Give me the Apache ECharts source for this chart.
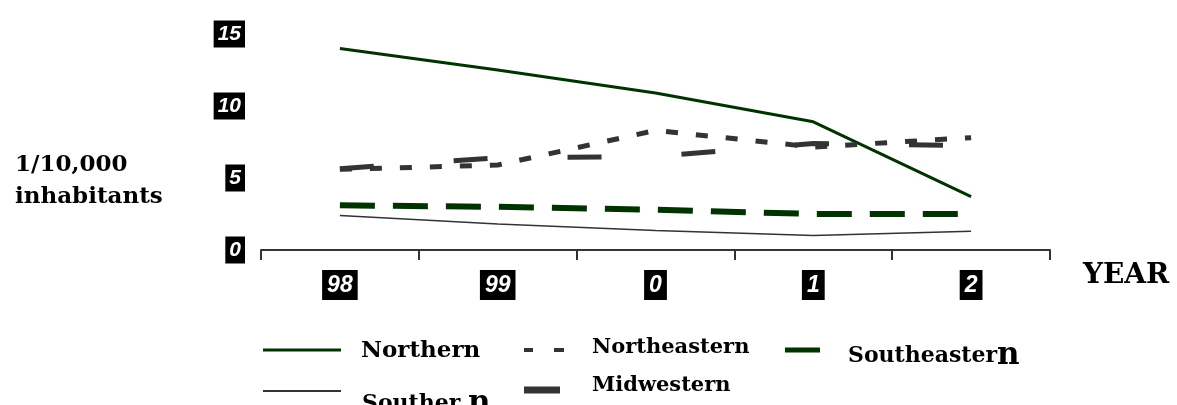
<!DOCTYPE html>
<html>
<head>
<meta charset="utf-8">
<script src="https://cdn.jsdelivr.net/npm/echarts@6/dist/echarts.min.js"></script>
<style>
html,body{margin:0;padding:0;background:#fff;}
#chart{width:1177px;height:405px;}
</style>
</head>
<body>
<div id="chart"></div>
<script>
var years = ['98', '99', '0', '1', '2'];
var yTicks = [0, 5, 10, 15];
var northern = [14.0, 12.5, 10.9, 8.9, 3.7];
var northeastern = [5.6, 5.9, 8.3, 7.15, 7.8];
var southeastern = [3.1, 3.0, 2.8, 2.5, 2.5];
var southern = [2.4, 1.8, 1.35, 1.0, 1.3];
var midwestern = [5.65, 6.4, 6.5, 7.4, 7.25];

var GREEN = '#003300';
var GRAY = '#333333';
var SERIF = '"DejaVu Serif", serif';
var SANS = '"Liberation Sans", Arial, sans-serif';

// icon path inside a w x 30 frame (zero-length moves keep the frame)
function iconPath(w, body) {
  return 'path://M0,0L0,0M' + w + ',30L' + w + ',30' + body;
}

function legendBox(name, left, centerY, w, icon, fontSize, pad) {
  return {
    data: [{ name: name, icon: icon }],
    left: left,
    top: centerY - 15,
    padding: 0,
    itemWidth: w,
    itemHeight: 30,
    selectedMode: false,
    itemStyle: { borderWidth: 0 },
    textStyle: {
      fontFamily: SERIF, fontWeight: 'bold', fontSize: fontSize, color: '#000',
      padding: pad,
      rich: { b: { fontFamily: SERIF, fontWeight: 'bold', fontSize: Math.round(fontSize * 1.4), color: '#000' } }
    },
    formatter: function (n) {
      if (n === 'Southern') return 'Souther {b|n}';
      if (n === 'Southeastern') return 'Southeaster{b|n}';
      return n;
    }
  };
}

var chart = echarts.init(document.getElementById('chart'));
chart.setOption({
  animation: false,
  backgroundColor: '#ffffff',
  grid: { left: 261, right: 127, top: 34, bottom: 155, containLabel: false },
  xAxis: {
    type: 'category',
    data: years,
    boundaryGap: true,
    axisLine: { show: true, lineStyle: { color: GRAY, width: 2 } },
    axisTick: { show: true, length: 10, alignWithLabel: false, lineStyle: { color: GRAY, width: 2 } },
    splitLine: { show: false },
    axisLabel: {
      margin: 20,
      color: '#fff', backgroundColor: '#000',
      fontFamily: SANS, fontWeight: 'bold', fontStyle: 'italic', fontSize: 23, lineHeight: 23,
      padding: [4, 5, 3, 5]
    }
  },
  yAxis: {
    type: 'value',
    min: 0, max: 15, interval: 5,
    axisLine: { show: false },
    axisTick: { show: false },
    splitLine: { show: false },
    axisLabel: {
      margin: 16,
      color: '#fff', backgroundColor: '#000',
      fontFamily: SANS, fontWeight: 'bold', fontStyle: 'italic', fontSize: 21, lineHeight: 21,
      padding: [3, 4, 3, 4],
      formatter: function (v) { return yTicks.indexOf(v) >= 0 ? String(v) : ''; }
    }
  },
  legend: [
    legendBox('Northern', 263, 350, 78, iconPath(78, 'M0,13.5h78v3h-78z'), 23, [2, 0, 0, 15]),
    legendBox('Southern', 263, 391, 78, iconPath(78, 'M0,14h78v2h-78z'), 22, [26, 0, 0, 16]),
    legendBox('Northeastern', 524, 350, 40, iconPath(40, 'M0,13h9v4h-9zM30,13h10v4h-10z'), 21, [0, 0, 4, 23]),
    legendBox('Midwestern', 524, 390, 36, iconPath(36, 'M0,11.5h36v7h-36z'), 21, [0, 0, 8, 27]),
    legendBox('Southeastern', 785, 350, 35, iconPath(35, 'M0,12.5h35v5h-35z'), 22, [12, 0, 0, 23])
  ],
  graphic: [
    { type: 'text', left: 15, top: 149,
      style: { text: '1/10,000\ninhabitants', font: 'bold 23px "DejaVu Serif", serif', lineHeight: 32, fill: '#000' } },
    { type: 'text', left: 1083, top: 262,
      style: { text: 'YEAR', font: 'bold 28px "DejaVu Serif", serif', fill: '#000' } }
  ],
  series: [
    { name: 'Northern', type: 'line', data: northern, symbol: 'none',
      lineStyle: { color: GREEN, width: 3 }, itemStyle: { color: GREEN } },
    { name: 'Northeastern', type: 'line', data: northeastern, symbol: 'none',
      lineStyle: { color: GRAY, width: 5, type: [12, 18], cap: 'butt' }, itemStyle: { color: GRAY } },
    { name: 'Southeastern', type: 'line', data: southeastern, symbol: 'none',
      lineStyle: { color: GREEN, width: 6, type: [35, 18], cap: 'butt' }, itemStyle: { color: GREEN } },
    { name: 'Southern', type: 'line', data: southern, symbol: 'none',
      lineStyle: { color: GRAY, width: 1.5 }, itemStyle: { color: GRAY } },
    { name: 'Midwestern', type: 'line', data: midwestern, symbol: 'none',
      lineStyle: { color: GRAY, width: 5, type: [34, 80], cap: 'butt' }, itemStyle: { color: GRAY } }
  ]
});
</script>
</body>
</html>
